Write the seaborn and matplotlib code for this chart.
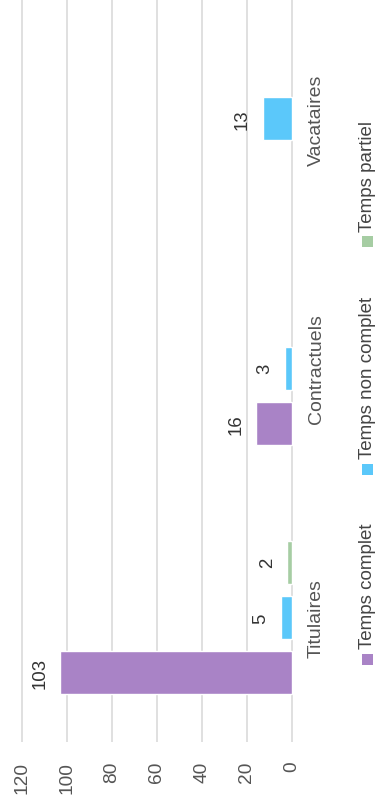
import numpy as np
import pandas as pd
import matplotlib
matplotlib.use("Agg")
import matplotlib.pyplot as plt
from matplotlib.patches import Rectangle
import seaborn as sns

categories = ["Titulaires", "Contractuels", "Vacataires"]
series_names = ["Temps complet", "Temps non complet", "Temps partiel"]
temps_complet = [103, 16, np.nan]
temps_non_complet = [5, 3, 13]
temps_partiel = [2, np.nan, np.nan]
x_ticks = [0, 20, 40, 60, 80, 100, 120]

colors = {"Temps complet": "#A983C6",
          "Temps non complet": "#5BC8FA",
          "Temps partiel": "#A6CDA3"}

rows = []
for name, vals in zip(series_names, [temps_complet, temps_non_complet, temps_partiel]):
    for c, v in zip(categories, vals):
        rows.append({"cat": c, "type": name, "val": v})
df = pd.DataFrame(rows).dropna()

sns.set_style("white")
plt.rcParams["font.family"] = ["Liberation Sans", "DejaVu Sans"]

W, H = 376, 812
fig = plt.figure(figsize=(W / 100, H / 100), dpi=100)
ax = fig.add_axes([17 / W, (H - 743) / H, (296 - 17) / W, 743 / H])

sns.barplot(data=df, x="val", y="cat", hue="type", orient="h",
            order=categories[::-1], hue_order=series_names[::-1],
            palette=colors, width=0.663, gap=0.22, errorbar=None,
            legend=False, ax=ax, saturation=1)

ax.set_xlim(122.22, -1.78)
ax.set_ylim(2.5, -0.481)
ax.set_xticks(x_ticks)
ax.set_xticklabels([str(t) for t in x_ticks], rotation=90)
ax.tick_params(axis="x", length=0, pad=13.5, labelsize=13.8, labelcolor="#555555")
ax.yaxis.tick_right()
ax.tick_params(axis="y", length=0, pad=8.6, labelsize=14, labelcolor="#555555")
for lab in ax.get_yticklabels():
    lab.set_rotation(90)
    lab.set_va("center")
ax.set_xlabel("")
ax.set_ylabel("")
ax.grid(axis="x", color="#DADADA", linewidth=1.2)
ax.grid(axis="y", visible=False)
ax.set_axisbelow(True)
for s in ax.spines.values():
    s.set_visible(False)

for cont in ax.containers:
    ax.bar_label(cont, fmt="%g", padding=8.5, rotation=90, fontsize=13.4, color="#333333")

# manual rotated legend
leg_items = [("Temps complet", 660), ("Temps non complet", 470), ("Temps partiel", 242)]
for name, yc in leg_items:
    size = 11
    fig.add_artist(Rectangle(((367 - size / 2) / W, (H - yc - size / 2) / H), size / W, size / H,
                             transform=fig.transFigure, facecolor=colors[name], edgecolor="none"))
    fig.text(367 / W, (H - yc + size / 2 + 5) / H, name, rotation=90, ha="center", va="bottom",
             fontsize=13.5, color="#444444")

fig.savefig("out.png", dpi=100)
